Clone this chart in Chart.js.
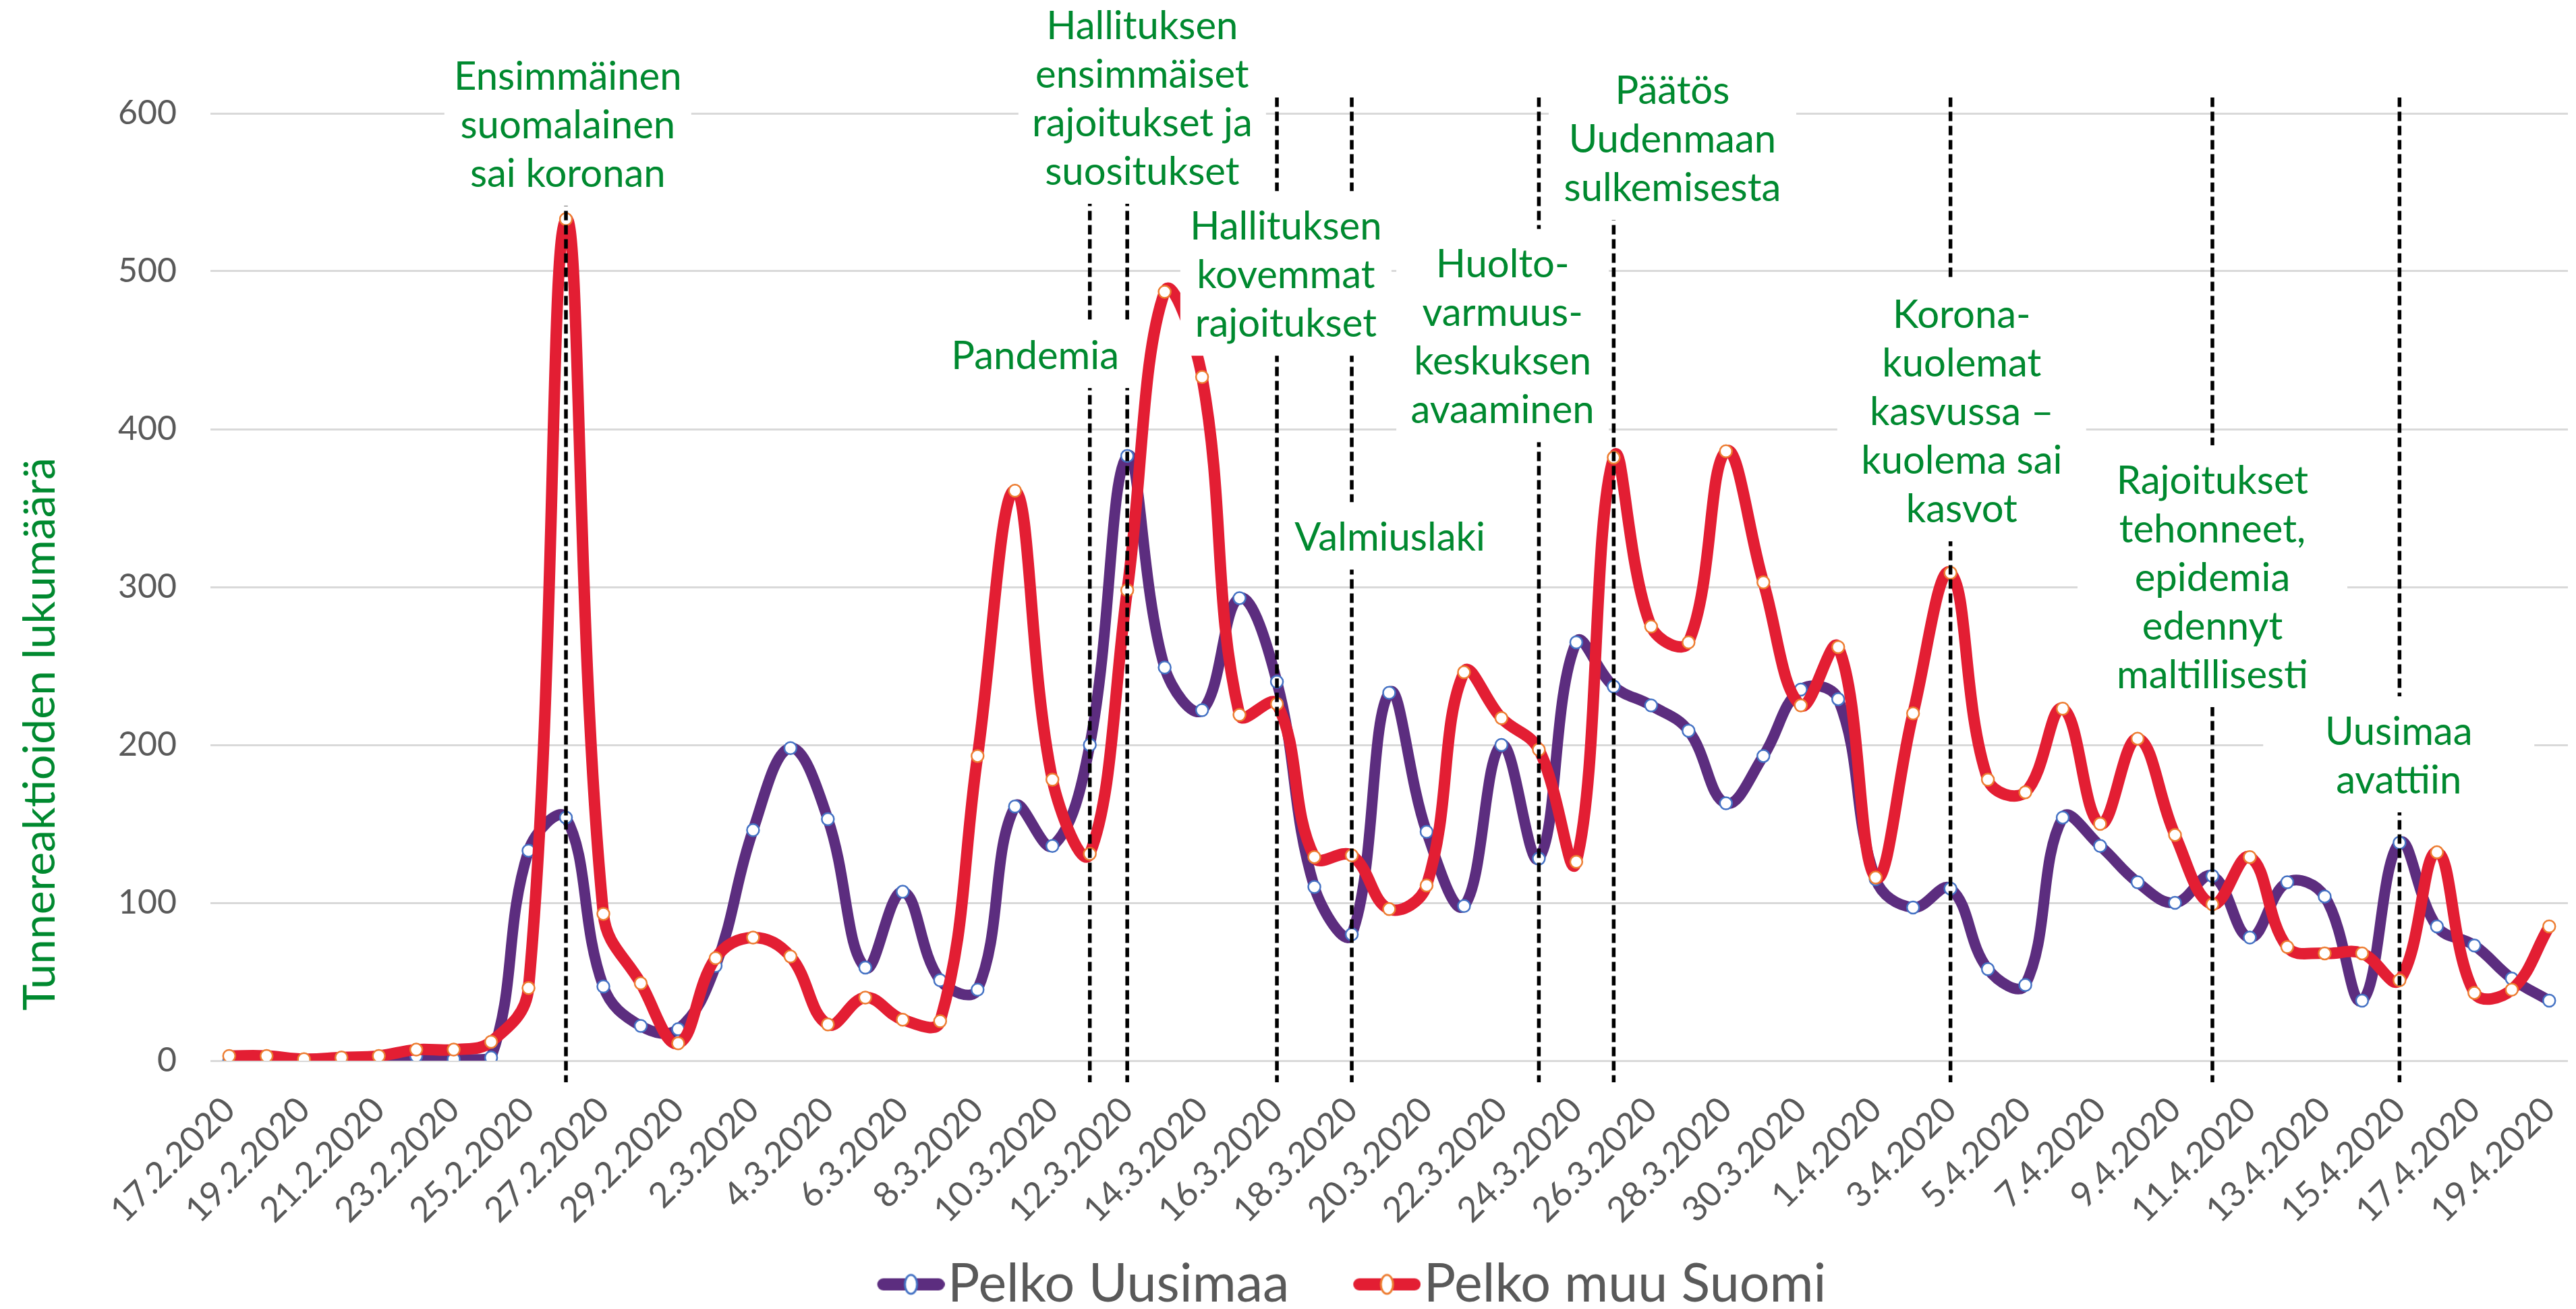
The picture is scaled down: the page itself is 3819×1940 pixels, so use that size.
<!DOCTYPE html>
<html>
<head>
<meta charset="UTF-8">
<title>Pelko</title>
<script src="https://cdn.jsdelivr.net/npm/chart.js@4.4.1/dist/chart.umd.min.js"></script>
<style>
  body { margin: 0; background: #fff; }
  #wrap { width: 3819px; height: 1940px; }
</style>
</head>
<body>
<div id="wrap"><canvas id="chart"></canvas></div>
<script>
// x categories, one per day
var dates = ['17.2.2020','18.2.2020','19.2.2020','20.2.2020','21.2.2020','22.2.2020','23.2.2020','24.2.2020',
  '25.2.2020','26.2.2020','27.2.2020','28.2.2020','29.2.2020',
  '1.3.2020','2.3.2020','3.3.2020','4.3.2020','5.3.2020','6.3.2020','7.3.2020','8.3.2020','9.3.2020','10.3.2020',
  '11.3.2020','12.3.2020','13.3.2020','14.3.2020','15.3.2020','16.3.2020','17.3.2020','18.3.2020','19.3.2020',
  '20.3.2020','21.3.2020','22.3.2020','23.3.2020','24.3.2020','25.3.2020','26.3.2020','27.3.2020','28.3.2020',
  '29.3.2020','30.3.2020','31.3.2020',
  '1.4.2020','2.4.2020','3.4.2020','4.4.2020','5.4.2020','6.4.2020','7.4.2020','8.4.2020','9.4.2020','10.4.2020',
  '11.4.2020','12.4.2020','13.4.2020','14.4.2020','15.4.2020','16.4.2020','17.4.2020','18.4.2020','19.4.2020'];

var uusimaa = [0,0,0,0,0,3,1,2,133,154,
  47,22,20,60,146,198,153,59,107,51,
  45,161,136,200,383,249,222,293,240,110,
  80,233,145,98,200,128,265,237,225,209,
  163,193,235,229,115,97,109,58,48,154,
  136,113,100,117,78,113,104,38,138,85,
  73,52,38];

var muuSuomi = [3,3,1,2,3,7,7,12,46,533,
  93,49,11,65,78,66,23,40,26,25,
  193,361,178,131,298,487,433,219,226,129,
  130,96,111,246,217,197,126,382,275,265,
  386,303,225,262,116,220,309,178,170,223,
  150,204,143,99,129,72,68,68,51,132,
  43,45,85];

var yTicks = [0, 100, 200, 300, 400, 500, 600];

// dashed event lines
var eventDates = ['26.2.2020','11.3.2020','12.3.2020','16.3.2020','18.3.2020','23.3.2020',
  '25.3.2020','3.4.2020','10.4.2020','15.4.2020'];

// event texts; x = category index of box centre, y = value of first baseline, w = box width
var notes = [
  {lines: ['Ensimmäinen', 'suomalainen', 'sai koronan'], x: 9.05, y: 615, w: 366},
  {lines: ['Hallituksen', 'ensimmäiset', 'rajoitukset ja', 'suositukset'], x: 24.4, y: 647, w: 367},
  {lines: ['Pandemia'], x: 21.54, y: 438, w: 290},
  {lines: ['Hallituksen', 'kovemmat', 'rajoitukset'], x: 28.24, y: 520, w: 313},
  {lines: ['Valmiuslaki'], x: 31.02, y: 323, w: 320},
  {lines: ['Huolto-', 'varmuus-', 'keskuksen', 'avaaminen'], x: 34.03, y: 496, w: 315},
  {lines: ['Päätös', 'Uudenmaan', 'sulkemisesta'], x: 38.57, y: 606, w: 367},
  {lines: ['Korona-', 'kuolemat', 'kasvussa –', 'kuolema sai', 'kasvot'], x: 46.3, y: 464, w: 369},
  {lines: ['Rajoitukset', 'tehonneet,', 'epidemia', 'edennyt', 'maltillisesti'], x: 53.0, y: 359, w: 400},
  {lines: ['Uusimaa', 'avattiin'], x: 57.98, y: 200, w: 402}
];

var green = '#00892f';
var gray = '#595959';
var purple = '#5c2d7f';
var red = '#e31e33';

// legend glyph: thick line with a marker, drawn at the right end of a wider canvas
function legendIcon(lineColor, markColor) {
  var c = document.createElement('canvas');
  c.width = 180; c.height = 40;
  var g = c.getContext('2d');
  g.strokeStyle = lineColor; g.lineWidth = 18; g.lineCap = 'round';
  g.beginPath(); g.moveTo(89, 20); g.lineTo(171, 20); g.stroke();
  g.beginPath(); g.ellipse(130, 20, 9, 14, 0, 0, 2 * Math.PI);
  g.fillStyle = '#fff'; g.fill();
  g.lineWidth = 3; g.strokeStyle = markColor; g.stroke();
  return c;
}
var icons = [legendIcon(red, '#ed7d31'), legendIcon(purple, '#4472c4')];

var notesPlugin = {
  id: 'notes',
  afterLayout: function(chart) {
    chart.legend.left += 78;
    chart.legend.right += 78;
  },
  afterDatasetsDraw: function(chart) {
    var ctx = chart.ctx, xs = chart.scales.x, ys = chart.scales.y;
    ctx.save();
    ctx.strokeStyle = '#000';
    ctx.lineWidth = 5.5;
    ctx.setLineDash([14, 7]);
    eventDates.forEach(function(d) {
      var px = xs.getPixelForValue(dates.indexOf(d));
      ctx.beginPath();
      ctx.moveTo(px, ys.getPixelForValue(610));
      ctx.lineTo(px, chart.chartArea.bottom + 32);
      ctx.stroke();
    });
    ctx.setLineDash([]);
    ctx.font = '58px Lato';
    ctx.textAlign = 'center';
    ctx.textBaseline = 'alphabetic';
    notes.forEach(function(n) {
      var cx = xs.getPixelForValue(n.x), by = ys.getPixelForValue(n.y);
      var top = by - 72, bottom = by + (n.lines.length - 1) * 72 + 28;
      ctx.fillStyle = '#fff';
      ctx.fillRect(cx - n.w / 2, top, n.w, bottom - top);
      ctx.fillStyle = green;
      n.lines.forEach(function(t, i) { ctx.fillText(t, cx, by + i * 72); });
    });
    ctx.translate(81, 1088);
    ctx.rotate(-Math.PI / 2);
    ctx.font = '66px Lato';
    ctx.fillStyle = green;
    ctx.fillText('Tunnereaktioiden lukumäärä', 0, 0);
    ctx.restore();
  }
};

Chart.defaults.font.family = 'Lato';

function draw() {
  new Chart(document.getElementById('chart'), {
    type: 'line',
    data: {
      labels: dates,
      datasets: [
        {
          label: 'Pelko muu Suomi',
          data: muuSuomi,
          borderColor: red,
          borderWidth: 17,
          tension: 0.4,
          pointRadius: 9,
          pointHoverRadius: 9,
          pointBorderWidth: 2.5,
          pointBorderColor: '#ed7d31',
          pointBackgroundColor: '#fff'
        },
        {
          label: 'Pelko Uusimaa',
          data: uusimaa,
          borderColor: purple,
          borderWidth: 16,
          tension: 0.4,
          pointRadius: 9,
          pointHoverRadius: 9,
          pointBorderWidth: 2.5,
          pointBorderColor: '#4472c4',
          pointBackgroundColor: '#fff'
        }
      ]
    },
    options: {
      responsive: true,
      maintainAspectRatio: false,
      animation: false,
      devicePixelRatio: 1,
      layout: { padding: { left: 0, right: 12, top: 168, bottom: -13 } },
      plugins: {
        tooltip: { enabled: false },
        legend: {
          position: 'bottom',
          reverse: true,
          labels: {
            usePointStyle: true,
            pointStyleWidth: 110,
            padding: 50,
            color: gray,
            font: { size: 79 },
            generateLabels: function(chart) {
              var items = Chart.defaults.plugins.legend.labels.generateLabels(chart);
              items.forEach(function(it) { it.pointStyle = icons[it.datasetIndex]; });
              return items;
            }
          }
        }
      },
      scales: {
        x: {
          offset: true,
          grid: { display: false, drawTicks: false },
          border: { display: false },
          afterFit: function(scale) {
            scale.height = 242;
            scale.paddingLeft = 0;
            scale.paddingRight = 0;
          },
          ticks: {
            autoSkip: false,
            minRotation: 45,
            maxRotation: 45,
            padding: 42,
            color: gray,
            font: { size: 52 },
            callback: function(v, i) { return i % 2 === 0 ? dates[i] : ''; }
          }
        },
        y: {
          min: 0,
          max: 600,
          afterBuildTicks: function(scale) {
            scale.ticks = yTicks.map(function(v) { return { value: v }; });
          },
          afterFit: function(scale) { scale.width = 312; },
          grid: { color: '#d9d9d9', lineWidth: 3, drawTicks: false },
          border: { display: false },
          ticks: { padding: 50, color: gray, font: { size: 50 } }
        }
      }
    },
    plugins: [notesPlugin]
  });
}

if (document.fonts && document.fonts.load) {
  document.fonts.load('60px Lato').then(draw, draw);
} else {
  draw();
}
</script>
</body>
</html>
